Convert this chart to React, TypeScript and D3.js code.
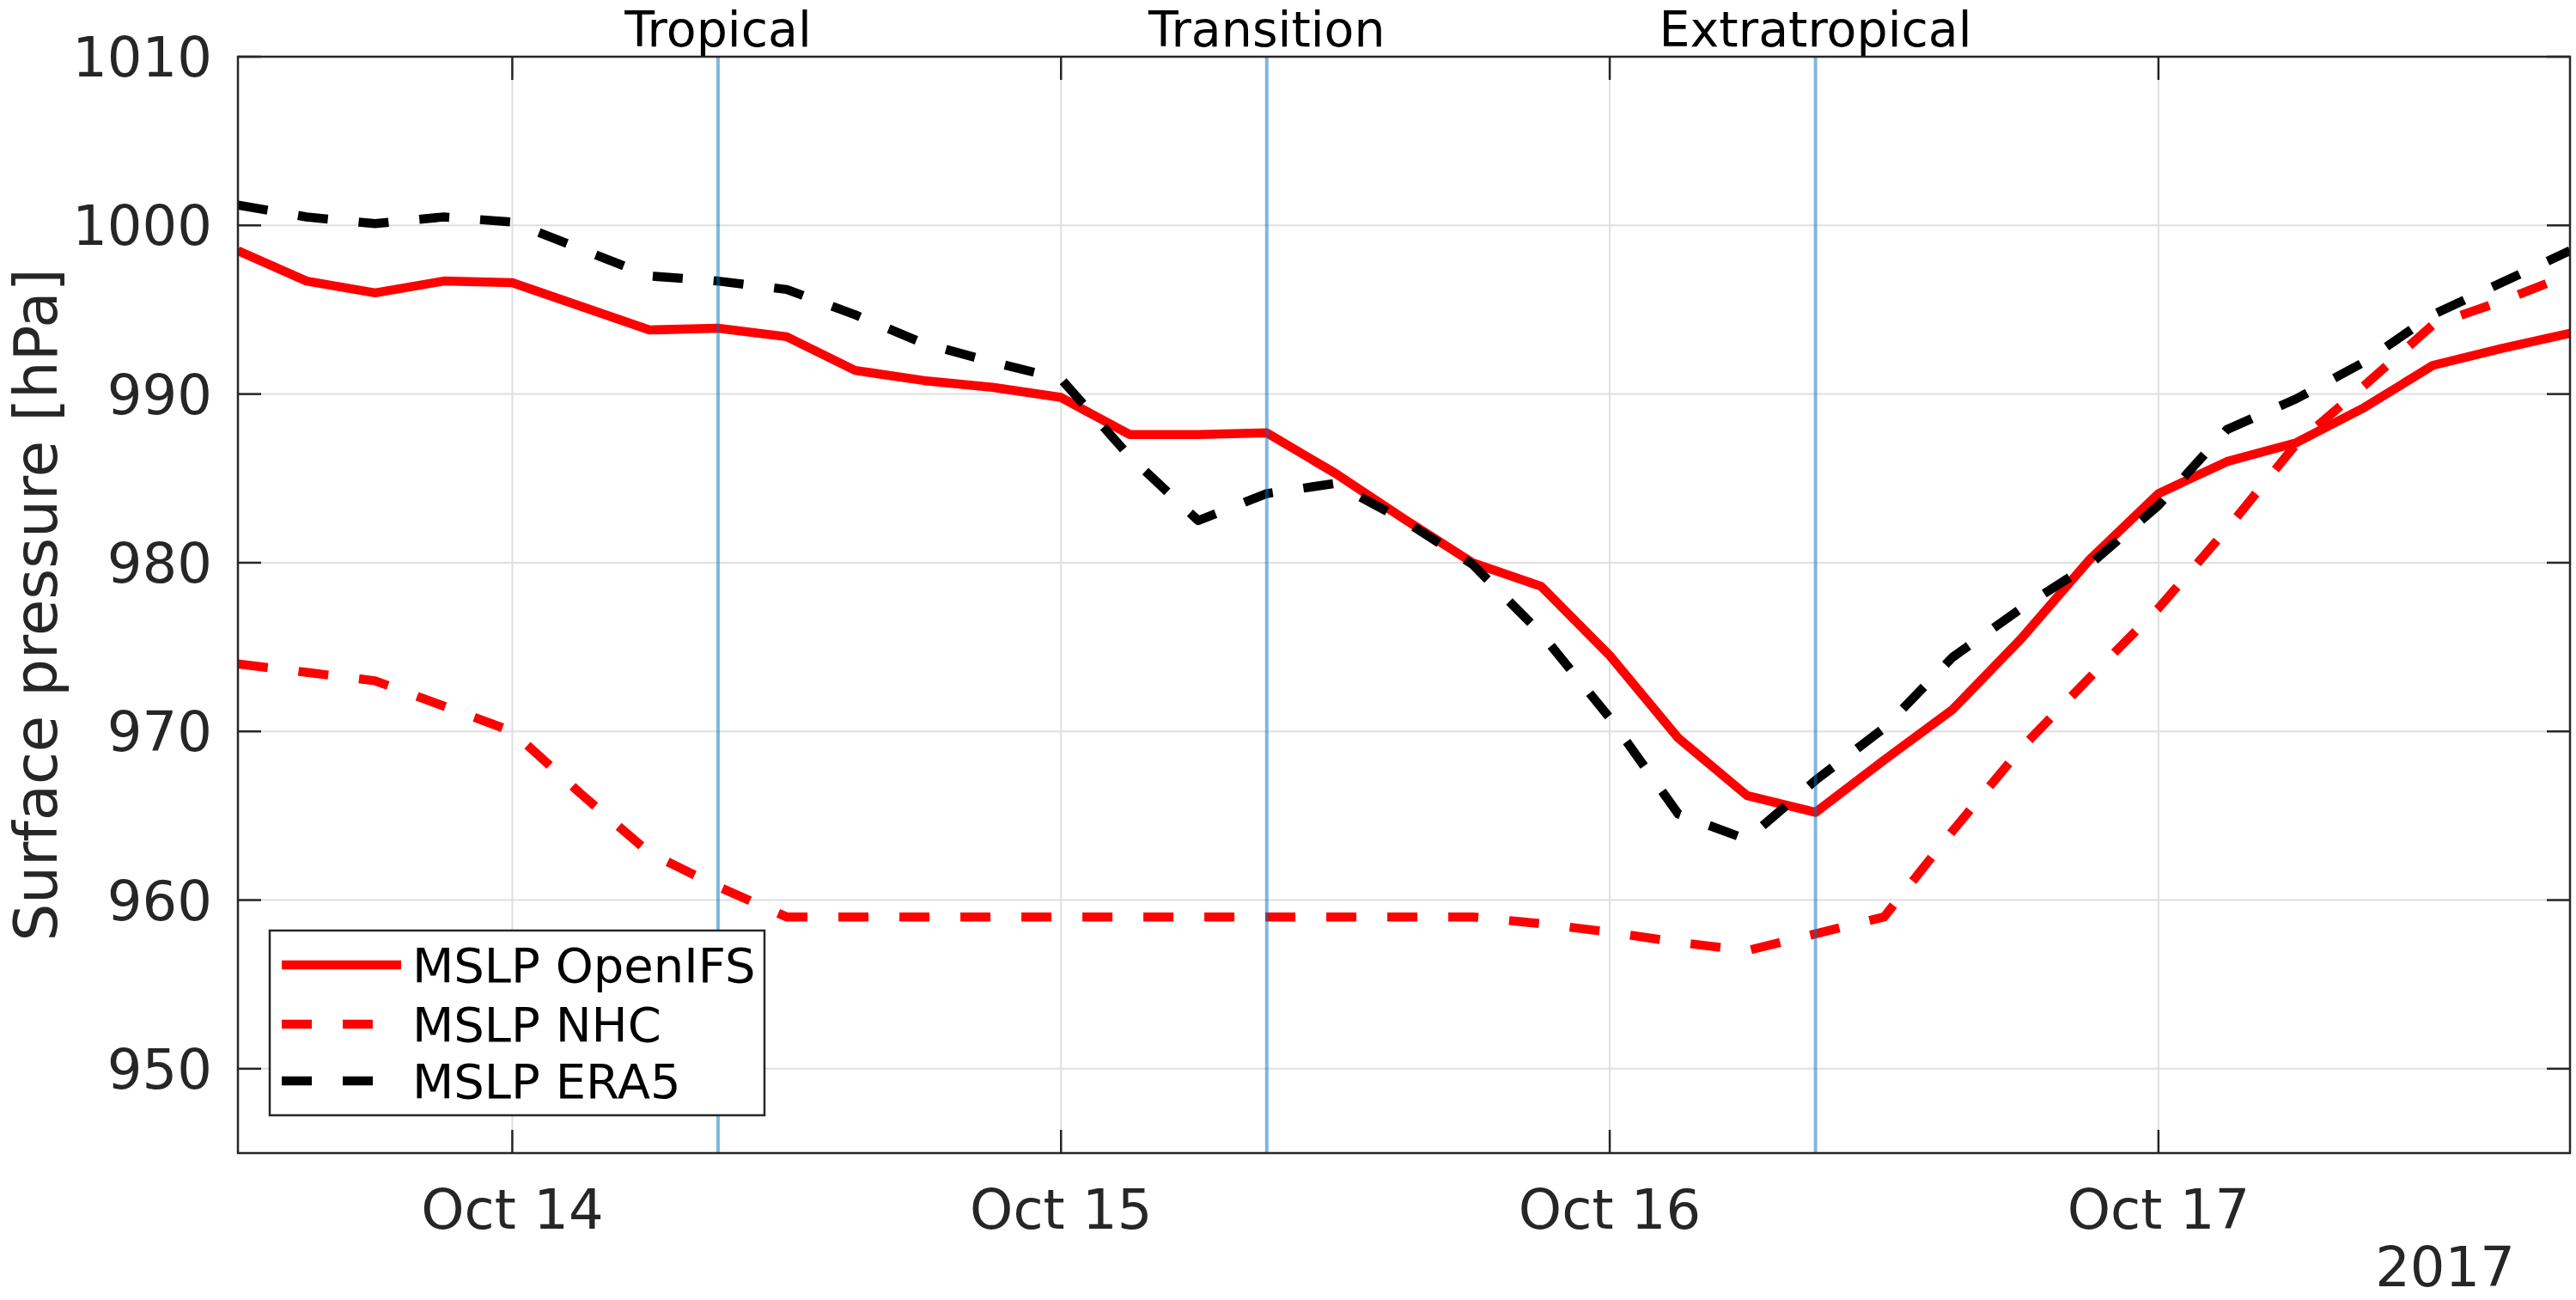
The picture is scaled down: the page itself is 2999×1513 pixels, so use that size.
import * as d3 from 'd3';

// 3-hourly times, 13 Oct 12 UTC to 17 Oct 18 UTC
const TIMES = [
  '2017-10-13T12:00Z', '2017-10-13T15:00Z', '2017-10-13T18:00Z', '2017-10-13T21:00Z',
  '2017-10-14T00:00Z', '2017-10-14T03:00Z', '2017-10-14T06:00Z', '2017-10-14T09:00Z',
  '2017-10-14T12:00Z', '2017-10-14T15:00Z', '2017-10-14T18:00Z', '2017-10-14T21:00Z',
  '2017-10-15T00:00Z', '2017-10-15T03:00Z', '2017-10-15T06:00Z', '2017-10-15T09:00Z',
  '2017-10-15T12:00Z', '2017-10-15T15:00Z', '2017-10-15T18:00Z', '2017-10-15T21:00Z',
  '2017-10-16T00:00Z', '2017-10-16T03:00Z', '2017-10-16T06:00Z', '2017-10-16T09:00Z',
  '2017-10-16T12:00Z', '2017-10-16T15:00Z', '2017-10-16T18:00Z', '2017-10-16T21:00Z',
  '2017-10-17T00:00Z', '2017-10-17T03:00Z', '2017-10-17T06:00Z', '2017-10-17T09:00Z',
  '2017-10-17T12:00Z', '2017-10-17T15:00Z', '2017-10-17T18:00Z',
].map((s) => new Date(s));

const MSLP_OPENIFS = [
  998.5, 996.7, 996.0, 996.7, 996.6, 995.2, 993.8, 993.9, 993.4, 991.4, 990.8, 990.4,
  989.8, 987.6, 987.6, 987.7, 985.3, 982.6, 980.0, 978.6, 974.5, 969.6, 966.2, 965.2,
  968.3, 971.3, 975.5, 980.2, 984.1, 986.0, 987.1, 989.2, 991.7, 992.7, 993.6,
];
const MSLP_NHC = [
  974.0, 973.5, 973.0, 971.5, 970.0, 966.3, 962.8, 960.8, 959.0, 959.0, 959.0, 959.0,
  959.0, 959.0, 959.0, 959.0, 959.0, 959.0, 959.0, 958.6, 958.1, 957.5, 957.0, 958.0,
  959.0, 964.1, 969.0, 973.2, 977.3, 982.0, 987.0, 990.5, 994.1, 995.5, 997.1,
];
const MSLP_ERA5 = [
  1001.2, 1000.5, 1000.1, 1000.5, 1000.2, 998.6, 997.0, 996.7, 996.2, 994.7, 993.0, 991.9,
  990.9, 986.3, 982.5, 984.1, 984.7, 982.5, 979.9, 975.8, 970.8, 965.1, 963.6, 967.1,
  970.2, 974.4, 977.3, 979.9, 983.4, 987.9, 989.7, 991.9, 994.7, 996.6, 998.5,
];

const PHASES = [
  { label: 'Tropical', time: new Date('2017-10-14T09:00Z') },
  { label: 'Transition', time: new Date('2017-10-15T09:00Z') },
  { label: 'Extratropical', time: new Date('2017-10-16T09:00Z') },
];

const X_TICKS = ['2017-10-14', '2017-10-15', '2017-10-16', '2017-10-17'].map((s) => new Date(s + 'T00:00Z'));
const X_TICK_LABELS = ['Oct 14', 'Oct 15', 'Oct 16', 'Oct 17'];
const Y_TICKS = [950, 960, 970, 980, 990, 1000, 1010];

const SERIES = [
  { name: 'MSLP OpenIFS', values: MSLP_OPENIFS, color: '#ff0000', dash: null },
  { name: 'MSLP NHC', values: MSLP_NHC, color: '#ff0000', dash: '35,36' },
  { name: 'MSLP ERA5', values: MSLP_ERA5, color: '#000000', dash: '35,36' },
];

export default function App() {
  const W = 2999, H = 1513;
  const L = 277, R = 2992, T = 66, B = 1342;
  const font = '"DejaVu Sans", sans-serif';
  const axisColor = '#262626';

  const x = d3.scaleUtc()
    .domain([new Date('2017-10-13T12:00Z'), new Date('2017-10-17T18:00Z')])
    .range([L, R]);
  const y = d3.scaleLinear().domain([945, 1010]).range([B, T]);

  const line = d3.line<number>()
    .x((_, i) => x(TIMES[i]))
    .y((d) => y(d));

  const tickLen = 27;

  return (
    <svg
      width={W}
      height={H}
      viewBox={`0 0 ${W} ${H}`}
      style={{ position: 'absolute', left: 0, top: 0, background: '#fff' }}
      fontFamily={font}
    >
      <rect x={0} y={0} width={W} height={H} fill="#fff" />
      <defs>
        <clipPath id="plot">
          <rect x={L} y={T} width={R - L} height={B - T} />
        </clipPath>
      </defs>

      {/* Grid */}
      {Y_TICKS.map((v) => (
        <line key={'gy' + v} x1={L} x2={R} y1={y(v)} y2={y(v)} stroke="#dfdfdf" strokeWidth={2} />
      ))}
      {X_TICKS.map((t, i) => (
        <line key={'gx' + i} x1={x(t)} x2={x(t)} y1={T} y2={B} stroke="#dfdfdf" strokeWidth={2} />
      ))}

      {/* Data */}
      <g clipPath="url(#plot)">
        {SERIES.map((s) => (
          <path
            key={s.name}
            d={line(s.values) ?? ''}
            fill="none"
            stroke={s.color}
            strokeWidth={10.5}
            strokeDasharray={s.dash ?? undefined}
            strokeLinejoin="round"
          />
        ))}
      </g>

      {/* Phase markers */}
      {PHASES.map((p) => (
        <g key={p.label}>
          <line x1={x(p.time)} x2={x(p.time)} y1={T} y2={B} stroke="#0072bd" strokeOpacity={0.5} strokeWidth={4} />
          <text x={x(p.time)} y={54} textAnchor="middle" fontSize={57} fill="#000">{p.label}</text>
        </g>
      ))}

      {/* Axes box and ticks */}
      <rect x={L} y={T} width={R - L} height={B - T} fill="none" stroke={axisColor} strokeWidth={2.5} />
      {Y_TICKS.map((v) => (
        <g key={'ty' + v}>
          <line x1={L} x2={L + tickLen} y1={y(v)} y2={y(v)} stroke={axisColor} strokeWidth={2.5} />
          <line x1={R - tickLen} x2={R} y1={y(v)} y2={y(v)} stroke={axisColor} strokeWidth={2.5} />
          <text x={L - 30} y={y(v) + 23} textAnchor="end" fontSize={64} fill={axisColor}>{v}</text>
        </g>
      ))}
      {X_TICKS.map((t, i) => (
        <g key={'tx' + i}>
          <line x1={x(t)} x2={x(t)} y1={B - tickLen} y2={B} stroke={axisColor} strokeWidth={2.5} />
          <line x1={x(t)} x2={x(t)} y1={T} y2={T + tickLen} stroke={axisColor} strokeWidth={2.5} />
          <text x={x(t)} y={1430} textAnchor="middle" fontSize={64} fill={axisColor}>{X_TICK_LABELS[i]}</text>
        </g>
      ))}
      <text x={2928} y={1497} textAnchor="end" fontSize={64} fill={axisColor}>2017</text>

      {/* Y label */}
      <text
        transform={`translate(66, ${(T + B) / 2}) rotate(-90)`}
        textAnchor="middle"
        fontSize={69}
        fill={axisColor}
      >
        Surface pressure [hPa]
      </text>

      {/* Legend */}
      <g>
        <rect x={314} y={1083} width={576} height={215} fill="#fff" stroke={axisColor} strokeWidth={2.5} />
        {SERIES.map((s, i) => {
          const ly = [1123, 1192, 1258][i];
          return (
            <g key={'lg' + s.name}>
              <line x1={328} x2={467} y1={ly} y2={ly} stroke={s.color} strokeWidth={10.5}
                strokeDasharray={s.dash ?? undefined} />
              <text x={480} y={ly + 20} fontSize={56} fill="#000">{s.name}</text>
            </g>
          );
        })}
      </g>
    </svg>
  );
}
